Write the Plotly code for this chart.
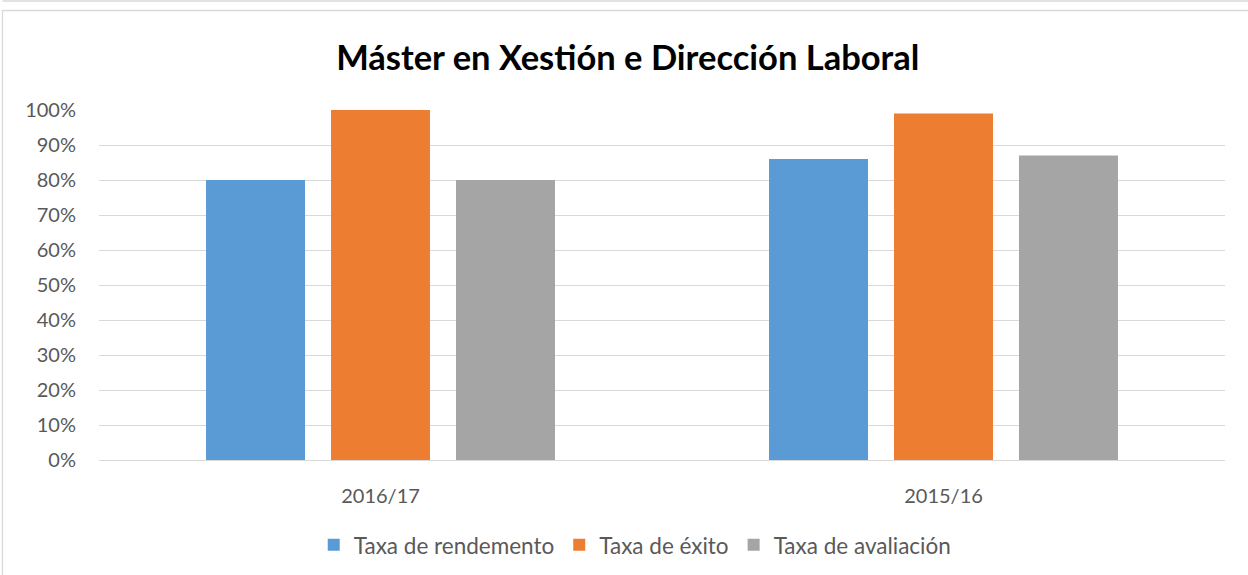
import plotly.graph_objects as go

categories = ["2016/17", "2015/16"]
series_names = ["Taxa de rendemento", "Taxa de éxito", "Taxa de avaliación"]
rendemento = [0.80, 0.86]
exito = [1.00, 0.99]
avaliacion = [0.80, 0.87]
colors = ["#5B9BD5", "#ED7D31", "#A5A5A5"]
y_ticks = [0, 0.1, 0.2, 0.3, 0.4, 0.5, 0.6, 0.7, 0.8, 0.9, 1.0]

FONT = "Lato"
fig = go.Figure()
for name, vals, c in zip(series_names, [rendemento, exito, avaliacion], colors):
    fig.add_trace(go.Bar(x=categories, y=vals, name=name, marker=dict(color=c, line=dict(width=0))))

fig.update_layout(
    width=1248, height=575,
    margin=dict(l=99, r=23, t=110, b=115),
    paper_bgcolor="white", plot_bgcolor="white",
    barmode="group", bargap=0.334, bargroupgap=0.208,
    title=dict(text="<b>Máster en Xestión e Dirección Laboral</b>", x=0.503, xanchor="center",
               y=0.899, yanchor="middle", yref="container",
               font=dict(family=FONT, size=34.5, color="#000000")),
    font=dict(family=FONT, color="#595959"),
    showlegend=True,
    legend=dict(orientation="h", x=0.509, xanchor="center", xref="container",
                y=0.052, yanchor="middle", yref="container",
                font=dict(family=FONT, size=22.5, color="#595959"),
                itemwidth=30, tracegroupgap=0),
    xaxis=dict(showgrid=False, showline=False, ticks="", ticklabelstandoff=22,
               tickfont=dict(size=20, color="#595959")),
    yaxis=dict(range=[0, 1], tickvals=y_ticks, tickformat=".0%", showgrid=True,
               gridcolor="#D9D9D9", gridwidth=1.3, zeroline=True, zerolinecolor="#D9D9D9",
               zerolinewidth=1.3, ticks="", ticklabelstandoff=22,
               tickfont=dict(size=20, color="#595959")),
    shapes=[
        dict(type="rect", xref="paper", yref="paper",
             x0=(2.5 - 99) / 1126, x1=(1260 - 99) / 1126,
             y0=(460 - 590) / 350, y1=(460 - 10.5) / 350,
             line=dict(color="#D9D9D9", width=1.3), fillcolor="rgba(0,0,0,0)", layer="below"),
        dict(type="line", xref="paper", yref="paper",
             x0=(2.5 - 99) / 1126, x1=(1260 - 99) / 1126,
             y0=(460 - 1) / 350, y1=(460 - 1) / 350,
             line=dict(color="#D9D9D9", width=1.3)),
    ],
)

fig.write_html("out.html", config={"displayModeBar": False},
               post_script="document.body.style.margin='0';document.body.style.overflow='hidden';")
